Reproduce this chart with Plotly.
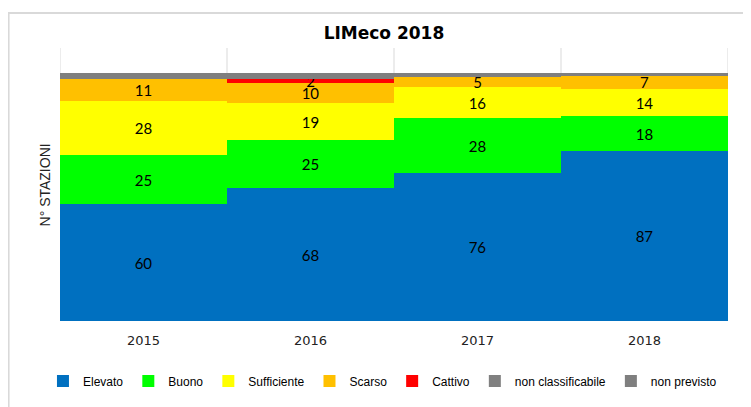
import plotly.graph_objects as go

# =========================================================
# Data: LIMeco classes per year (number of stations)
# =========================================================
years = ["2015", "2016", "2017", "2018"]
elevato = [60, 68, 76, 87]
buono = [25, 25, 28, 18]
sufficiente = [28, 19, 16, 14]
scarso = [11, 10, 5, 7]
cattivo = [0, 2, 0, 0]
non_classificabile = [0, 0, 0, 0]
non_previsto = [3, 3, 2, 1]

series = [
    ("Elevato", elevato, "#0070C0", True),
    ("Buono", buono, "#00FF00", True),
    ("Sufficiente", sufficiente, "#FFFF00", True),
    ("Scarso", scarso, "#FFC000", True),
    ("Cattivo", cattivo, "#FF0000", True),
    ("non classificabile", non_classificabile, "#808080", False),
    ("non previsto", non_previsto, "#7F7F7F", False),
]

fig = go.Figure()
for name, values, color, labelled in series:
    fig.add_trace(
        go.Bar(
            x=years,
            y=values,
            name=name,
            marker=dict(color=color, line=dict(width=0)),
            text=[str(v) if (v and labelled) else "" for v in values],
            textposition="inside",
            insidetextanchor="middle",
            textangle=0,
            textfont=dict(family="Lato, Liberation Sans", size=15, color="black"),
        )
    )

# vertical separators between categories + outer chart border
shapes = []
for xb in [-0.5, 0.5, 1.5, 2.5, 3.5]:
    shapes.append(
        dict(type="line", xref="x", yref="paper", x0=xb, x1=xb, y0=0, y1=1,
             line=dict(color="#D9D9D9", width=1), layer="below")
    )
shapes.append(
    dict(type="rect", xref="paper", yref="paper", x0=-0.077, x1=1.2, y0=-0.5, y1=1.128,
         line=dict(color="#D9D9D9", width=2), layer="below")
)

# page has an 8px body margin, so the figure is 743x399 and offset by 8px
fig.update_layout(
    width=743,
    height=399,
    barmode="stack",
    bargap=0,
    plot_bgcolor="white",
    paper_bgcolor="white",
    margin=dict(l=52, r=23, t=40, b=86, autoexpand=False),
    title=dict(
        text="<b>LIMeco 2018</b>",
        x=0.485, xref="paper", xanchor="center",
        y=0.937, yref="container", yanchor="middle",
        font=dict(family="DejaVu Sans", size=17, color="black"),
    ),
    uniformtext=dict(mode="show", minsize=15),
    shapes=shapes,
    annotations=[
        dict(text="N° STAZIONI", xref="paper", yref="paper", x=-0.0225, y=0.5,
             xanchor="center", yanchor="middle", textangle=-90, showarrow=False,
             font=dict(family="Liberation Sans", size=14, color="#222222"))
    ],
    showlegend=True,
    legend=dict(
        orientation="h",
        traceorder="normal",
        x=-0.0255, xanchor="left",
        y=-0.22, yanchor="middle",
        font=dict(family="Liberation Sans", size=12, color="black"),
        itemwidth=30,
    ),
)
fig.update_xaxes(
    showgrid=False,
    showline=False,
    ticks="",
    automargin=False,
    ticklabelstandoff=10,
    tickfont=dict(family="DejaVu Sans", size=13, color="#222222"),
    range=[-0.5, 3.5],
)
fig.update_yaxes(
    range=[0, 140],
    showgrid=False,
    showticklabels=False,
    showline=False,
    ticks="",
    zeroline=False,
    automargin=False,
)

fig.write_html("out.html")
